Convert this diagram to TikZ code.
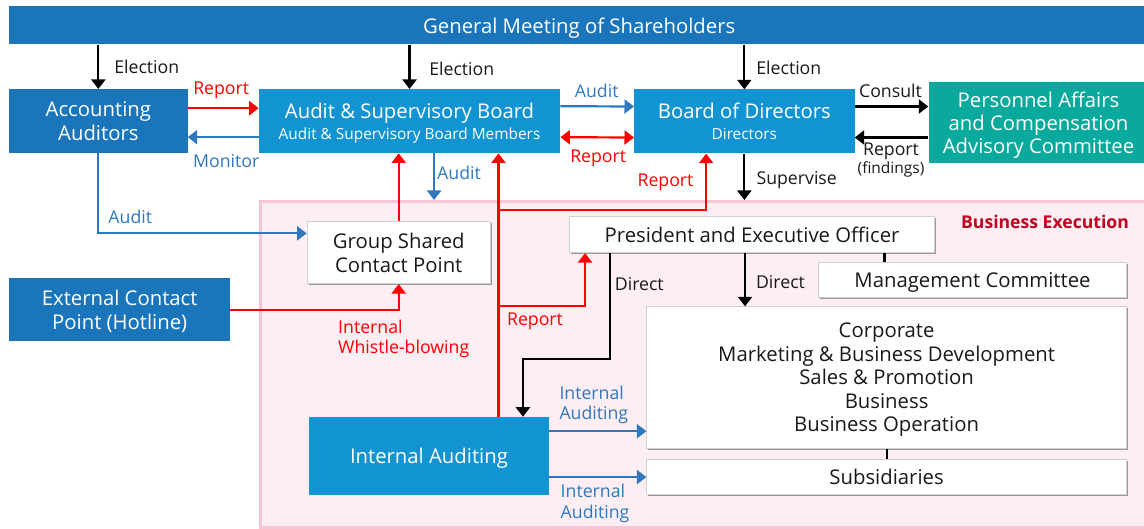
\documentclass[tikz,border=0pt]{standalone}
\usepackage{fontspec}
\setmainfont{Open Sans}
\usetikzlibrary{arrows.meta,shadows}
\definecolor{darkblue}{HTML}{1B75BB}
\definecolor{lightblue}{HTML}{1394D2}
\definecolor{pacgreen}{HTML}{0AA99D}
\definecolor{linkblue}{HTML}{2E78BE}
\definecolor{exred}{HTML}{C00020}
\definecolor{pinkfill}{HTML}{FDEEF4}
\definecolor{pinkline}{HTML}{F4C6D8}
\newcommand\bigtxt{\fontsize{20.3}{24}\selectfont}
\newcommand\lbltxt{\fontsize{17.7}{20.3}\selectfont}
\newcommand\smalltxt{\fontsize{15.4}{18}\selectfont}
\tikzset{darkbox/.style={fill=darkblue, text=white, align=center, inner sep=2pt, font=\bigtxt, anchor=north west, text depth=0pt},
lightbox/.style={darkbox, fill=lightblue},
greenbox/.style={darkbox, fill=pacgreen},
whitebox/.style={fill=white, draw=black!18, line width=0.8pt, text=black!90, align=center, font=\bigtxt, anchor=north west, text depth=0pt,
  drop shadow={shadow xshift=1.6pt, shadow yshift=-1.6pt, fill=black!40, opacity=1}},
region/.style={fill=pinkfill, draw=pinkline, line width=3pt, anchor=north west},
arr/.style={line width=2.2pt, >={Triangle[length=9.5pt,width=14pt]}, ->},
rarr/.style={arr, red},
darr/.style={arr, red, <->},
barr/.style={arr, linkblue},
lbl/.style={font=\lbltxt, inner sep=0pt, text=black!90}}

\begin{document}
\begin{tikzpicture}[x=1pt,y=-1pt]
\useasboundingbox (0,0) rectangle (1144,529);
% top row
\node[darkbox, minimum width=1140, minimum height=38.3] (gms) at (9,6) {General Meeting of Shareholders};
\node[darkbox, minimum width=178.3, minimum height=64] (aa) at (9,89) {Accounting\\Auditors};
\node[lightbox, minimum width=301.3, minimum height=64] (asb) at (258.7,89) {Audit \& Supervisory Board\\[-2.5pt]{\smalltxt Audit \& Supervisory Board Members}};
\node[lightbox, minimum width=220.3, minimum height=64] (bod) at (634,89.3) {Board of Directors\\[-3pt]{\smalltxt Directors}};
\node[greenbox, minimum width=220, minimum height=81.6, font=\fontsize{20.3}{23.4}\selectfont] (pac) at (928.3,81.7) {Personnel Affairs\\and Compensation\\Advisory Committee};

% business execution
\node[region, minimum width=900, minimum height=326] (be) at (258.5,200) {};
\node[font=\fontsize{17.6}{20}\selectfont\bfseries, text=exred, inner sep=0pt] (bex) at (1045,221.7) {Business Execution};
\node[whitebox, minimum width=183.3, minimum height=62.3] (gscp) at (306.7,221) {Group Shared\\Contact Point};
\node[darkbox, minimum width=221, minimum height=63.3] (ecp) at (9,278) {External Contact\\Point (Hotline)};
\node[whitebox, minimum width=365.3, minimum height=36] (peo) at (569,216.3) {President and Executive Officer};
\node[whitebox, minimum width=307.7, minimum height=35] (mc) at (818.3,262) {Management Committee};
\node[whitebox, minimum width=479.6, minimum height=141.4, font=\fontsize{20.3}{23.5}\selectfont] (corp) at (646.4,306.3) {Corporate\\Marketing \& Business Development\\Sales \& Promotion\\Business\\Business Operation};
\node[whitebox, minimum width=479.6, minimum height=35.3] (subs) at (646.4,459) {Subsidiaries};
\node[lightbox, minimum width=240.5, minimum height=77.6] (ia) at (308.5,416.7) {Internal Auditing};

% election
\foreach \n/\lx/\ly in {aa/146.8/66.7, asb/461.8/69, bod/788.8/68.3} {
  \draw[arr] (\n.north |- gms.south) -- (\n.north);
  \node[lbl] (el-\n) at (\lx,\ly) {Election};
}

% top row links
\draw[rarr] ([yshift=13]aa.east) -- ([yshift=13]asb.west);
\draw[barr] ([yshift=-16]asb.west) -- ([yshift=-16]aa.east);
\draw[barr] ([yshift=15]asb.east) -- ([yshift=15]bod.west);
\draw[darr] ([yshift=-16]asb.east) -- ([yshift=-16]bod.west);
\coordinate (c1) at ([yshift=15]bod.east);
\coordinate (c2) at ([yshift=-16]bod.east);
\draw[arr] (c1) -- (c1 -| pac.west);
\draw[arr] (c2 -| pac.west) -- (c2);
\draw[arr] (bod.south) -- (bod.south |- be.north);
\coordinate (c3) at ([xshift=24.5]asb.south);
\draw[barr] (c3) -- (c3 |- be.north);
\draw[barr] (aa.south) |- ([yshift=19.2]gscp.west);

% whistle-blowing and reports
\draw[rarr] (gscp.north) -- (gscp.north |- asb.south);
\draw[rarr] (ecp.east) -| (gscp.south);
\coordinate (r0) at ([xshift=69.5]ia.north);
\coordinate (r1) at (r0 |- 0,209.7);
\coordinate (r2) at (r0 |- 0,306);
\draw[rarr] (r0) -- (r0 |- asb.south);
\draw[rarr] (r1) -| ([xshift=-38.2]bod.south);
\draw[rarr] (r2) -| ([xshift=-167]peo.south);

% direct
\draw[arr] ([xshift=-142]peo.south) -- ++(0,106) -| ([xshift=94]ia.north);
\coordinate (d1) at ([xshift=-7]peo.south);
\coordinate (d2) at ([xshift=132.5]peo.south);
\draw[arr] (d1) -- (d1 |- corp.north);
\draw[line width=2.2pt] (d2) -- (d2 |- mc.north);
\draw[line width=2.2pt] (corp.south) -- (subs.north);

% internal auditing
\coordinate (i1) at ([yshift=24.5]ia.east);
\draw[barr] (i1) -- (i1 -| corp.west);
\draw[barr] (ia.east |- subs.west) -- (subs.west);

%labels
\node[lbl, text=red] (lrep1) at (221.2,90) {Report};
\node[lbl, text=linkblue] (lmon) at (226.2,161) {Monitor};
\node[lbl, text=linkblue] (laud1) at (130.3,217.3) {Audit};
\node[lbl, text=linkblue] (laud2) at (596.7,90.7) {Audit};
\node[lbl, text=red] (lrep2) at (598.2,158) {Report};
\node[lbl] (lcon) at (890.5,90.7) {Consult};
\node[lbl, align=center, font=\fontsize{17.7}{18.6}\selectfont] (lrep3) at (891,160) {Report\\{\fontsize{15.5}{18.6}\selectfont(findings)}};
\node[lbl] (lsup) at (796.7,180) {Supervise};
\node[lbl, text=linkblue] (laud3) at (459,173.3) {Audit};
\node[lbl, text=red] (lrep4) at (665.5,182.3) {Report};
\node[lbl, text=red, align=left, anchor=west] (lwb) at (338,339) {Internal\\Whistle-blowing};
\node[lbl, text=red] (lrep5) at (535,321.7) {Report};
\node[lbl] (ldir1) at (639.3,284) {Direct};
\node[lbl] (ldir2) at (780.5,281.7) {Direct};
\node[lbl, text=linkblue, align=left, anchor=west] (lia1) at (559.3,405) {Internal\\Auditing};
\node[lbl, text=linkblue, align=left, anchor=west] (lia2) at (560.5,503.5) {Internal\\Auditing};
\end{tikzpicture}
\end{document}
